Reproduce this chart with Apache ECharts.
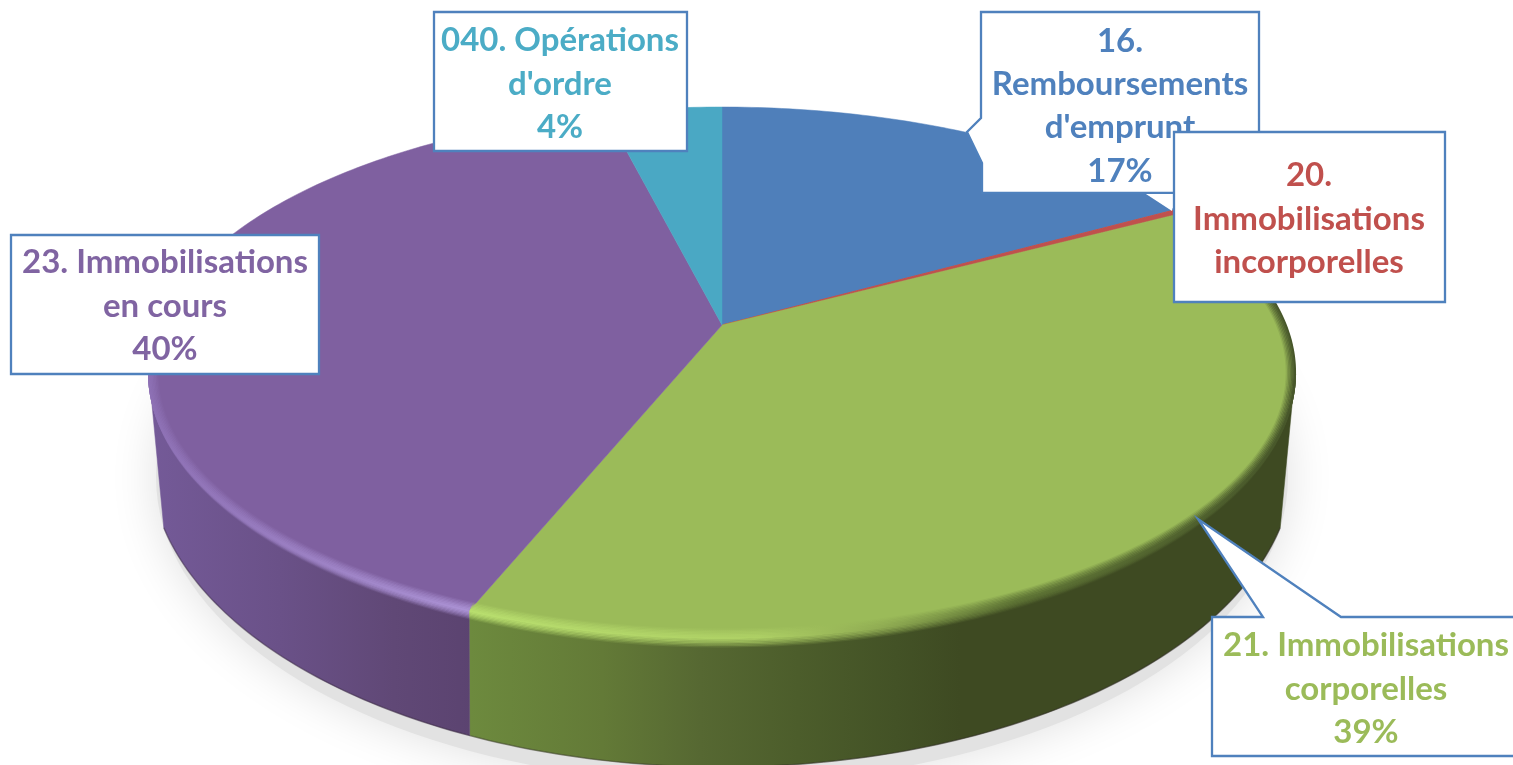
<!DOCTYPE html>
<html lang="fr">
<head>
    <meta charset="UTF-8">
    <title>Dépenses d'investissement</title>
    <script src="https://cdn.jsdelivr.net/npm/echarts@6/dist/echarts.min.js"></script>
    <style>
        html, body { margin: 0; padding: 0; background: #fff; }
        #main { width: 1513px; height: 765px; }
    </style>
</head>
<body>
<div id="main"></div>
<script type="text/javascript">
    // data, in % clockwise from 12 o'clock
    var categories = ['16. Remboursements d\'emprunt', '20. Immobilisations incorporelles', '21. Immobilisations corporelles', '23. Immobilisations en cours', '040. Opérations d\'ordre'];
    var shares = [16.9, 0.3, 38.9, 40.0, 3.9];
    var labelLines = [
        ['16.', 'Remboursements', 'd\'emprunt', '17%'],
        ['20.', 'Immobilisations', 'incorporelles'],
        ['21. Immobilisations', 'corporelles', '39%'],
        ['23. Immobilisations', 'en cours', '40%'],
        ['040. Opérations', 'd\'ordre', '4%']
    ];

    var colors = ['#4f7fba', '#c0504d', '#9bbb59', '#7f60a0', '#4aa8c4'];
    var textColors = ['#4f81bd', '#c0504d', '#9bbb59', '#8064a2', '#4bacc6'];

    // perspective of the pie top: apex is above the centre of the rim ellipse
    var cx = 722, apexY = 325, f = 563.8, g = 257, k = 0.179;
    var rimCy = 372.5, rimRx = 573, rimRy = 265.5;
    var baseCy = 461, baseRx = 572, baseRy = 306;
    var baseClamp = 0.22;

    function rimPoint(pct) {
        var t = pct / 100 * Math.PI * 2;
        var d = 1 + k * Math.cos(t);
        return [cx + f * Math.sin(t) / d, apexY - g * Math.cos(t) / d];
    }

    function rimPoints(start, end) {
        var pts = [];
        var n = Math.max(2, Math.ceil((end - start) / 0.25));
        for (var i = 0; i <= n; i++) {
            pts.push(rimPoint(start + (end - start) * i / n));
        }
        return pts;
    }

    function basePoint(p) {
        var a = Math.atan2((p[1] - rimCy) / rimRy, (p[0] - cx) / rimRx);
        a = Math.max(baseClamp, Math.min(Math.PI - baseClamp, a));
        return [cx + baseRx * Math.cos(a), baseCy + baseRy * Math.sin(a)];
    }

    function front(pts) {
        return pts.filter(function (p) { return p[1] >= rimCy; });
    }

    function hGrad(x, x2, stops) {
        return {
            type: 'linear', x: x, y: 0, x2: x2, y2: 0, global: true,
            colorStops: stops.map(function (s) { return { offset: s[0], color: s[1] }; })
        };
    }

    var wallFill = {
        2: hGrad(470, 960, [[0, '#6d8a3e'], [0.27, '#637a37'], [0.47, '#566832'], [0.67, '#4c5d2b'], [0.87, '#435226'], [1, '#3e4a22']]),
        3: hGrad(150, 475, [[0, '#745a98'], [0.4, '#6a5188'], [0.75, '#604876'], [1, '#5b4370']])
    };
    var edgeFill = {
        2: hGrad(470, 1295, [[0, '#b8de6e'], [0.35, '#aed065'], [0.5, '#8fab52'], [0.66, '#5f7535'], [1, '#47562a']]),
        3: hGrad(150, 475, [[0, '#8d70b4'], [0.5, '#9c81c4'], [1, '#ab92d4']])
    };

    var rows = [];
    var acc = 0;
    shares.forEach(function (s) {
        rows.push([acc, acc + s]);
        acc += s;
    });

    function renderWall(params, api) {
        var i = params.dataIndex;
        var pts = front(rimPoints(api.value(0), api.value(1)));
        if (pts.length < 2) return null;
        var bottom = pts.map(basePoint).reverse();
        return {
            type: 'group',
            children: [
                { type: 'polygon', shape: { points: pts.concat(bottom) }, style: { fill: wallFill[i], stroke: wallFill[i], lineWidth: 0.5 } },
                { type: 'polyline', shape: { points: bottom }, style: { fill: null, stroke: 'rgba(40,30,40,0.35)', lineWidth: 1.5 } }
            ]
        };
    }

    function renderTop(params, api) {
        var i = params.dataIndex;
        var pts = rimPoints(api.value(0), api.value(1));
        var points = [[cx, apexY]].concat(pts);
        return { type: 'polygon', shape: { points: points }, style: { fill: colors[i], stroke: colors[i], lineWidth: i === 1 ? 1 : 0.5 } };
    }

    function renderEdge(params, api) {
        var i = params.dataIndex;
        if (!edgeFill[i]) return null;
        var pts = rimPoints(api.value(0), api.value(1));
        var frontPts = front(pts);
        if (i === 3) pts = frontPts;
        var children = [];
        var n = 7;
        // soft highlight: inner rings fade into the top, outer rings into the wall
        for (var r = n - 1; r >= -n + 1; r--) {
            var d = r * 1.4;
            var ringPts = r < 0 ? frontPts : pts;
            children.push({
                type: 'polyline',
                shape: {
                    points: ringPts.map(function (p) {
                        return [cx + (p[0] - cx) * (rimRx - Math.max(d, 0)) / rimRx, rimCy + (p[1] - rimCy) * (rimRy - d) / rimRy];
                    })
                },
                style: { fill: null, stroke: edgeFill[i], lineWidth: 2, opacity: 1 - Math.abs(r) / n }
            });
        }
        return { type: 'group', children: children };
    }

    // callout outlines and text anchors, drawn in this order
    var callouts = [
        { idx: 0, path: [[981, 12], [1259, 12], [1259, 193], [982, 193], [982, 163], [967, 132], [981, 118]], tx: 1120, ty: 106 },
        { idx: 4, path: [[434, 12], [687, 12], [687, 151], [434, 151]], tx: 560, ty: 84 },
        { idx: 3, path: [[11, 235], [319, 235], [319, 374], [11, 374]], tx: 165, ty: 306 },
        { idx: 1, path: [[1174, 132], [1445, 132], [1445, 302], [1174, 302]], tx: 1309, ty: 219, wedge: [[1146, 194], [1172, 211], [1175, 194]] },
        { idx: 2, path: [[1212, 617], [1263, 617], [1198, 519], [1341, 617], [1530, 617], [1530, 756], [1212, 756]], tx: 1366, ty: 689 }
    ];

    function renderCallout(params) {
        var c = callouts[params.dataIndex];
        var children = [];
        if (c.wedge) {
            children.push({ type: 'polygon', shape: { points: c.wedge }, style: { fill: '#fff' } });
        }
        children.push({ type: 'polygon', shape: { points: c.path }, style: { fill: '#fff', stroke: '#4f81bd', lineWidth: 2.3 } });
        children.push({
            type: 'text',
            style: {
                x: c.tx, y: c.ty,
                text: labelLines[c.idx].join('\n'),
                fill: textColors[c.idx],
                font: '700 33px Lato',
                lineHeight: 43.3,
                align: 'center',
                verticalAlign: 'middle'
            }
        });
        return { type: 'group', children: children };
    }

    function renderShadow() {
        return {
            type: 'ellipse',
            shape: { cx: cx, cy: baseCy + 16, rx: baseRx - 6, ry: baseRy },
            style: { fill: '#e2e2e2', shadowColor: '#e0e0e0', shadowBlur: 48 }
        };
    }

    var option = {
        backgroundColor: '#ffffff',
        animation: false,
        series: [
            { type: 'custom', name: 'ombre', coordinateSystem: 'none', renderItem: renderShadow, data: [[0]], z: 1, silent: true },
            { type: 'custom', name: 'parois', coordinateSystem: 'none', renderItem: renderWall, data: rows, z: 2, silent: true },
            { type: 'custom', name: 'dessus', coordinateSystem: 'none', renderItem: renderTop, data: rows.map(function (r, i) { return { name: categories[i], value: r }; }), z: 3, silent: true },
            { type: 'custom', name: 'biseau', coordinateSystem: 'none', renderItem: renderEdge, data: rows, z: 4, silent: true },
            { type: 'custom', name: 'etiquettes', coordinateSystem: 'none', renderItem: renderCallout, data: callouts.map(function (c) { return [c.idx]; }), z: 5, silent: true }
        ]
    };

    var myChart = echarts.init(document.getElementById('main'));
    myChart.setOption(option);
</script>
</body>
</html>
